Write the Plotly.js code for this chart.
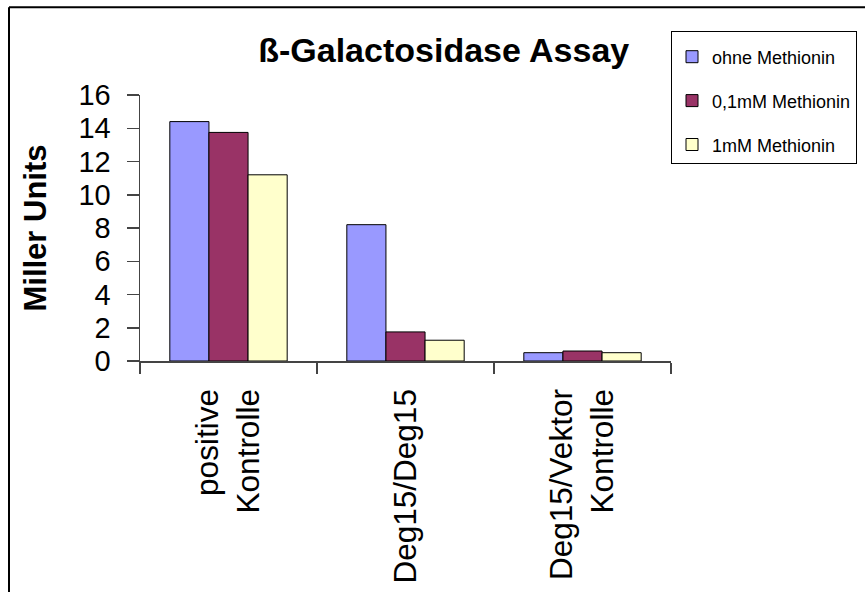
<!DOCTYPE html>
<html>
<head>
<meta charset="utf-8">
<script src="https://cdn.plot.ly/plotly-3.0.1.min.js"></script>
<style>html,body{margin:0;padding:0;background:#fff;}#chart{width:865px;height:592px;}</style>
</head>
<body>
<div id="chart"></div>
<script>
const categories = ["positive<br>Kontrolle", "Deg15/Deg15", "Deg15/Vektor<br>Kontrolle"];
const seriesNames = ["ohne Methionin", "0,1mM Methionin", "1mM Methionin"];
const ohneMethionin = [14.4, 8.2, 0.5];
const mM01Methionin = [13.75, 1.75, 0.6];
const mM1Methionin = [11.2, 1.25, 0.5];
const seriesColors = ["#9999FF", "#993366", "#FFFFCC"];
const yTicks = [0, 2, 4, 6, 8, 10, 12, 14, 16];

const FONT = "Liberation Sans, Arial, sans-serif";
const values = [ohneMethionin, mM01Methionin, mM1Methionin];
const traces = values.map((v, i) => ({
  type: "bar",
  name: seriesNames[i],
  x: categories,
  y: v,
  legendgroup: "g" + i,
  marker: {color: seriesColors[i], line: {color: "#000", width: 1}},
  hoverinfo: "skip"
}));

const layout = {
  width: 865, height: 592,
  margin: {l: 140, r: 194, t: 95, b: 230.5, pad: 0},
  paper_bgcolor: "#fff", plot_bgcolor: "#fff",
  font: {family: FONT, color: "#000"},
  barmode: "group", bargap: 0.337, bargroupgap: 0,
  title: {
    text: "<b>ß-Galactosidase Assay</b>",
    font: {family: FONT, size: 34, color: "#000"},
    x: 0.513, xref: "container", xanchor: "center",
    y: 1 - 50/592, yref: "container", yanchor: "middle"
  },
  xaxis: {
    type: "category",
    tickangle: -90,
    tickfont: {family: FONT, size: 31.5, color: "#000"},
    ticks: "outside", ticklen: 11, tickwidth: 1.5, tickcolor: "#444",
    tickson: "boundaries",
    showline: true, linecolor: "#444", linewidth: 1.5,
    showgrid: false, zeroline: false,
    automargin: false,
    ticklabelstandoff: 14
  },
  yaxis: {
    range: [0, 16],
    tickvals: yTicks,
    ticktext: yTicks.map(String),
    tickfont: {family: FONT, size: 29, color: "#000"},
    ticks: "outside", ticklen: 12, tickwidth: 1.5, tickcolor: "#444",
    showline: true, linecolor: "#444", linewidth: 1.5,
    showgrid: false, zeroline: false,
    automargin: false,
    ticklabelstandoff: 10,
    title: {text: "<b>Miller Units</b>", font: {family: FONT, size: 31, color: "#000"}, standoff: 22}
  },
  showlegend: true,
  legend: {
    x: 857 / 865, xanchor: "right",
    y: 1 - 31 / 592, yanchor: "top",
    xref: "container", yref: "container",
    bordercolor: "#000", borderwidth: 1,
    bgcolor: "#fff",
    font: {family: FONT, size: 18, color: "#000"},
    title: {text: " ", font: {family: FONT, size: 5}},
    traceorder: "grouped",
    tracegroupgap: 17.5,
    itemwidth: 30
  },
  shapes: [
    {type: "line", xref: "paper", yref: "paper",
     x0: (9 - 140) / 531, x1: (9 - 140) / 531, y0: (361.5 - 7) / 266.5, y1: (361.5 - 600) / 266.5,
     line: {color: "#000", width: 2}},
    {type: "line", xref: "paper", yref: "paper",
     x0: (9 - 140) / 531, x1: (880 - 140) / 531, y0: (361.5 - 7) / 266.5, y1: (361.5 - 7) / 266.5,
     line: {color: "#000", width: 2}}
  ]
};

Plotly.newPlot("chart", traces, layout, {displayModeBar: false, staticPlot: true});
</script>
</body>
</html>
